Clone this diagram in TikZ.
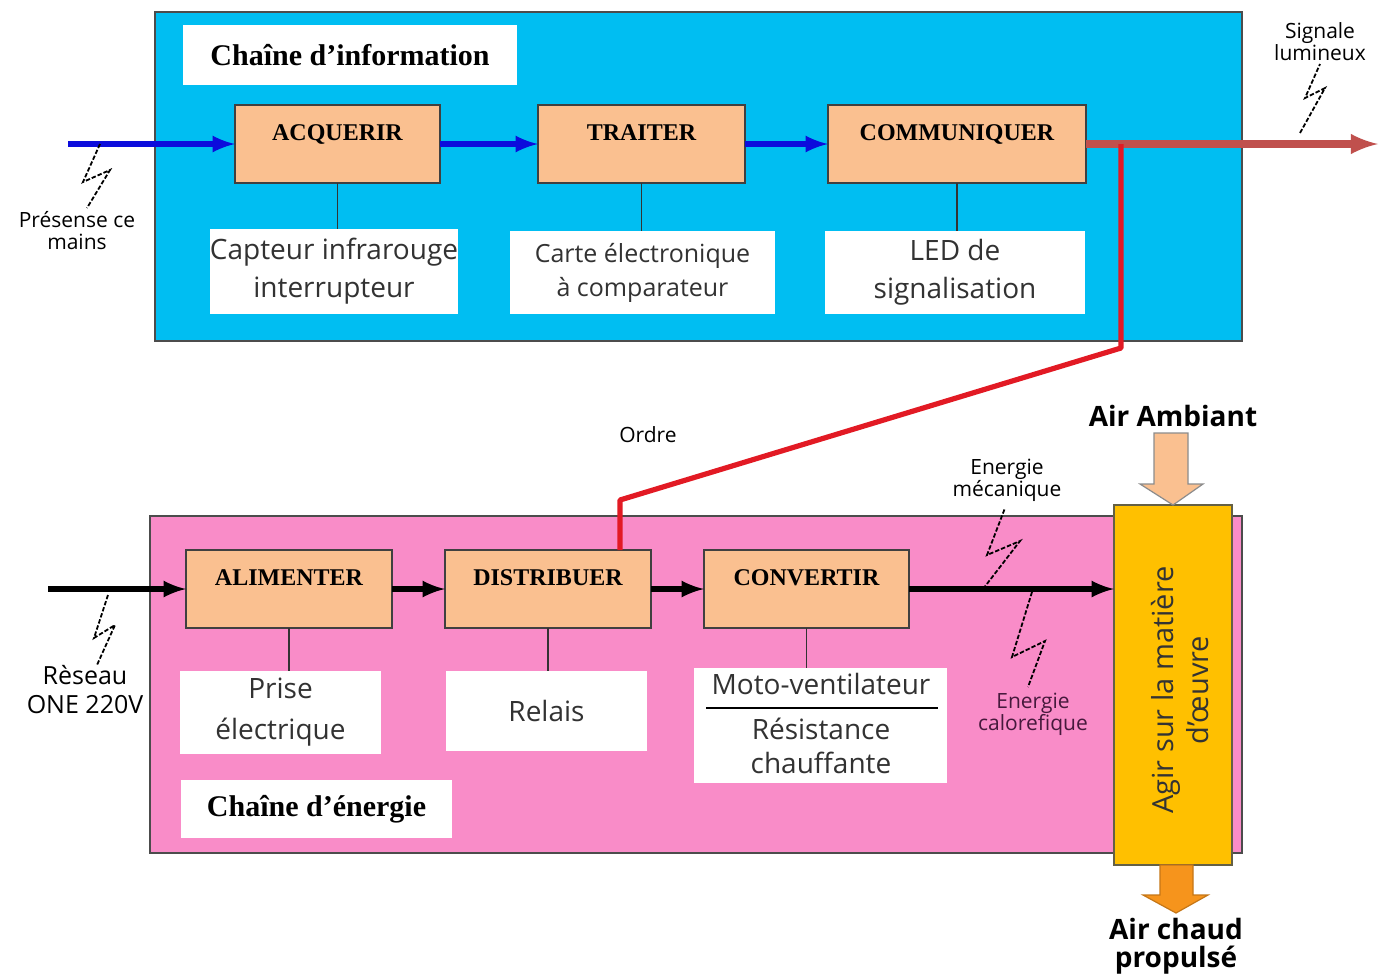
\documentclass[tikz,border=0pt]{standalone}
\usepackage{fontspec}
\setmainfont{Liberation Serif}
\setsansfont{Open Sans}
\usetikzlibrary{calc}

\definecolor{bleuinfo}{RGB}{0,190,242}
\definecolor{roseener}{RGB}{249,140,200}
\definecolor{peche}{RGB}{250,192,144}
\definecolor{jaune}{RGB}{255,192,0}
\definecolor{brique}{RGB}{192,80,77}
\definecolor{rouge}{RGB}{226,26,36}
\definecolor{bleufl}{RGB}{12,12,220}
\definecolor{orange}{RGB}{246,148,28}
\definecolor{gristxt}{RGB}{50,50,50}
\definecolor{violet}{RGB}{70,25,60}

\begin{document}
\begin{tikzpicture}[x=0.5pt, y=-0.5pt]
\tikzset{ >=latex, inner sep=0pt, outer sep=0pt,
  fonct/.style={draw=black!75, line width=0.9pt, fill=peche, minimum height=39pt,
    font=\bfseries\fontsize{12}{14}\selectfont, text height=8pt, text depth=12pt},
  support/.style={fill=white, align=center, text=gristxt,
    font=\sffamily\fontsize{14}{19}\selectfont},
  titre/.style={fill=white, font=\bfseries\fontsize{15}{18}\selectfont},
  note/.style={align=center, font=\sffamily\fontsize{10.5}{11}\selectfont},
  lien/.style={draw=black!80, line width=0.8pt},
  eclair/.style={draw=black, dash pattern=on 2.2pt off 1pt, line width=0.9pt},
  flbleu/.style={->, draw=bleufl, line width=2.8pt},
  flnoir/.style={->, draw=black, line width=2.8pt},
  air/.style={font=\sffamily\bfseries\fontsize{14}{15}\selectfont, align=center},
}

\useasboundingbox (0,0) rectangle (1392,976);
%\draw [lightgray, dashed] (0,0) grid[step=100] (1392,976);

% les deux chaines
\draw [fill=bleuinfo, draw=black!70, line width=1pt] (155,12) rectangle (1242,341);
\draw [fill=roseener, draw=black!70, line width=1pt] (150,516) rectangle (1242,853);

\node [titre, minimum width=167pt, minimum height=30pt] (tinfo) at (350,55) {Chaîne d’information};
\node [titre, minimum width=135.5pt, minimum height=29pt] (tener) at (316.5,809) {Chaîne d’énergie};

% chaine d'information
\node [fonct, minimum width=102.5pt] (acq)   at (337.5,144) {ACQUERIR};
\node [fonct, minimum width=103.5pt] (trait) at (641.5,144) {TRAITER};
\node [fonct, minimum width=129pt]   (comm)  at (957,144)   {COMMUNIQUER};

\node [support, minimum width=122pt, minimum height=42.5pt] (capt) at (334,271.5) {Capteur infrarouge\\interrupteur};
\node [support, minimum width=132.5pt, minimum height=41.5pt,
       font=\sffamily\fontsize{12.5}{17}\selectfont] (carte) at (642.5,272.5) {Carte électronique\\à comparateur};
\node [support, minimum width=130pt, minimum height=41.5pt] (led) at (955,272.5) {LED de\\signalisation};

\draw [lien] (acq.south)   -- (acq.south |- capt.north);
\draw [lien] (trait.south) -- (trait.south |- carte.north);
\draw [lien] (comm.south)  -- (comm.south |- led.north);

\coordinate (entA) at (68,144);
\draw [flbleu] (entA)  -- (acq);
\draw [flbleu] (acq)   -- (trait);
\draw [flbleu] (trait) -- (comm);

\coordinate (sortie) at (1378,144);
\draw [->, draw=brique, line width=3.6pt] (comm) -- (sortie);

% ordre
\coordinate (ordA) at (1121,144);
\coordinate (ordB) at (1121,348);
\coordinate (ordC) at (620,500);

% chaine d'energie
\node [fonct, minimum width=103pt]   (alim)    at (289,589)   {ALIMENTER};
\node [fonct, minimum width=103pt]   (distrib) at (548,589)   {DISTRIBUER};
\node [fonct, minimum width=102.5pt] (conv)    at (806.5,589) {CONVERTIR};

\node [support, minimum width=100.5pt, minimum height=41.5pt,
       font=\sffamily\fontsize{14}{20.5}\selectfont] (prise) at (280.5,712.5) {Prise\\électrique};
\node [support, minimum width=100.5pt, minimum height=40pt] (relais) at (546.5,711) {Relais};
\node [support, minimum width=126.5pt, minimum height=57.5pt] (moto) at (820.5,725.5) {};
\node [support] (motoA) at (821,684) {Moto-ventilateur};
\node [support, font=\sffamily\fontsize{14}{17}\selectfont] (motoB) at (821,746) {Résistance\\chauffante};
\draw [black, line width=0.8pt] ($(moto.west)+(12,-17.5)$) -- ($(moto.east)+(-9,-17.5)$);

\draw [lien] (alim.south)    -- (alim.south |- prise.north);
\draw [lien] (distrib.south) -- (distrib.south |- relais.north);
\draw [lien] (conv.south)    -- (conv.south |- moto.north);

\node [draw=black!70!yellow, line width=1pt, fill=jaune, minimum width=59pt, minimum height=180pt] (agir) at (1173,685) {};
\node [rotate=90, align=center, text=black!80, font=\sffamily\fontsize{14.5}{17.5}\selectfont] (agirtxt) at (1180,690) {Agir sur la matière\\d’œuvre};

\coordinate (entB) at (48,589);
\draw [flnoir] (entB)    -- (alim);
\draw [flnoir] (alim)    -- (distrib);
\draw [flnoir] (distrib) -- (conv);
\draw [flnoir] (conv)    -- (conv -| agir.west);

\draw [rouge, line width=2.6pt, line join=round] (ordA) -- (ordB) -- (ordC) -- (ordC |- distrib.north);
\node [note] (ordre) at (648,435) {Ordre};

% air
\node [air] (airamb) at (1173,416) {Air Ambiant};
\node [air, font=\sffamily\bfseries\fontsize{14}{14}\selectfont] (airch) at (1176,946) {Air chaud\\propulsé};
\draw [fill=peche, draw=black!45, line width=0.6pt] (1154,433) -- (1188,433) -- (1188,484) -- (1203,484)
      -- (agir.north) -- (1140,484) -- (1154,484) -- cycle;
\draw [fill=orange, draw=orange!80!black, line width=0.6pt] (1160,865) -- (1193,865) -- (1193,895) -- (1208,895)
      -- (1176,913) -- (1143,895) -- (1160,895) -- cycle;

% eclairs et notes
\draw [eclair] (100,144) -- (83,182) -- (110,170) -- (87,208);
\node [note] (mains) at (77,231) {Présense ce\\mains};

\draw [eclair] (1300,133) -- (1325,88) -- (1305,98) -- (1320,64);
\node [note] (lum) at (1320,42) {Signale\\lumineux};

\draw [eclair] (108,595) -- (94,638) -- (115,625) -- (97,665);
\node [note, font=\sffamily\fontsize{12.5}{14.5}\selectfont] (reseau) at (85,690) {Rèseau\\ONE 220V};

\draw [eclair] (983,589) -- (1020,541) -- (987,555) -- (1005,508);
\node [note] (meca) at (1007,480) {Energie\\mécanique};

\draw [eclair] (1032,592) -- (1012,657) -- (1045,641) -- (1028,687);
\node [note, text=violet] (calo) at (1033,714) {Energie\\calorefique};

\end{tikzpicture}
\end{document}
